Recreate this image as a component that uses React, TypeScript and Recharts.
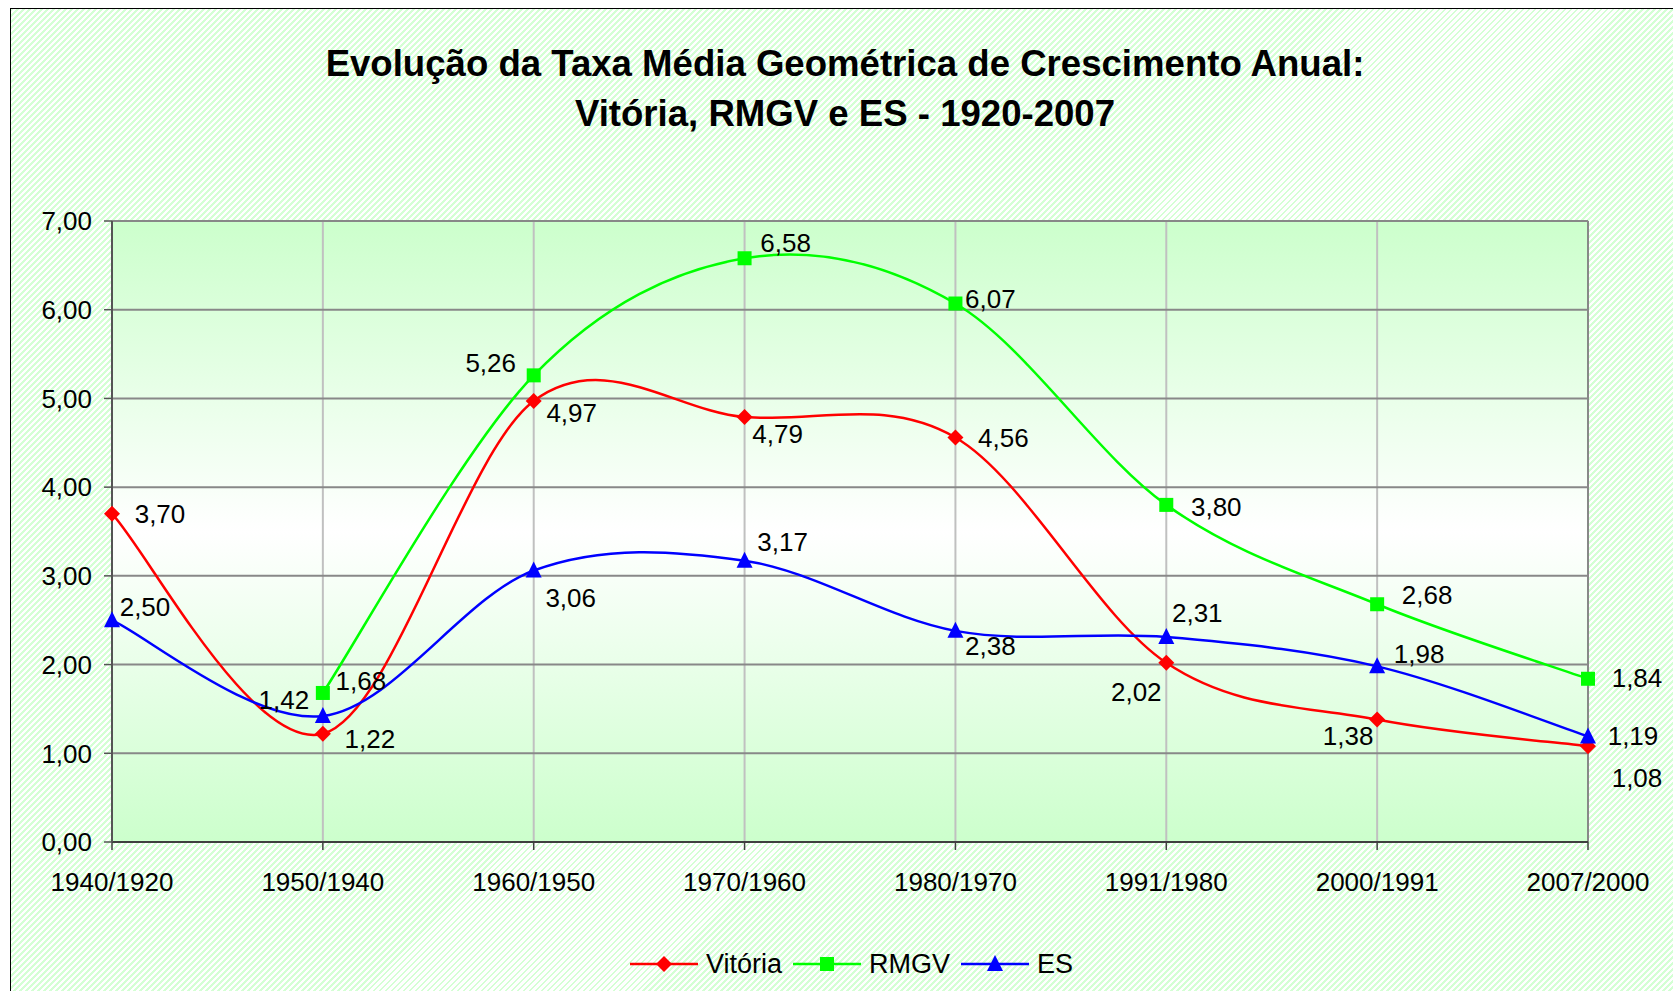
import React from "react";
import {
  LineChart,
  Line,
  XAxis,
  YAxis,
  CartesianGrid,
  LabelList,
  Legend,
  ReferenceLine,
} from "recharts";

const PERIODS = [
  "1940/1920", "1950/1940", "1960/1950", "1970/1960",
  "1980/1970", "1991/1980", "2000/1991", "2007/2000",
];
const VITORIA = [3.7, 1.22, 4.97, 4.79, 4.56, 2.02, 1.38, 1.08];
const RMGV = [null, 1.68, 5.26, 6.58, 6.07, 3.8, 2.68, 1.84];
const ES = [2.5, 1.42, 3.06, 3.17, 2.38, 2.31, 1.98, 1.19];
const Y_TICKS = [0, 1, 2, 3, 4, 5, 6, 7];

// where each data label sits relative to its point (dx, dy in px)
const VITORIA_LABEL_POS = [[48, 0], [47, 5], [38, 12], [33, 17], [48, 0], [-30, 29], [-29, 16], [49, 31]];
const RMGV_LABEL_POS = [[0, 0], [38, -12], [-43, -13], [41, -16], [35, -5], [50, 2], [50, -10], [49, -1]];
const ES_LABEL_POS = [[33, -14], [-39, -16], [37, 27], [38, -19], [35, 15], [31, -24], [42, -13], [45, -1]];

const FONT = "'Liberation Sans', Arial, sans-serif";

const data = PERIODS.map((period, i) => ({
  period,
  vitoria: VITORIA[i],
  rmgv: RMGV[i],
  es: ES[i],
}));

const SERIES = [
  { key: "vitoria", name: "Vitória", color: "#ff0000", shape: "diamond", labelPos: VITORIA_LABEL_POS },
  { key: "rmgv", name: "RMGV", color: "#00ff00", shape: "square", labelPos: RMGV_LABEL_POS },
  { key: "es", name: "ES", color: "#0000ff", shape: "triangle", labelPos: ES_LABEL_POS },
];

const fmt = (v: number) => v.toFixed(2).replace(".", ",");

// Excel-style smoothed line (Catmull-Rom as cubic bezier)
const excelSmooth = (context: any) => {
  let pts: number[][] = [];
  return {
    areaStart() {},
    areaEnd() {},
    lineStart() {
      pts = [];
    },
    point(x: number, y: number) {
      pts.push([+x, +y]);
    },
    lineEnd() {
      const n = pts.length;
      if (!n) return;
      context.moveTo(pts[0][0], pts[0][1]);
      for (let i = 0; i < n - 1; i++) {
        const p0 = pts[i - 1] || pts[i];
        const p1 = pts[i];
        const p2 = pts[i + 1];
        const p3 = pts[i + 2] || p2;
        context.bezierCurveTo(
          p1[0] + (p2[0] - p0[0]) / 6,
          p1[1] + (p2[1] - p0[1]) / 6,
          p2[0] - (p3[0] - p1[0]) / 6,
          p2[1] - (p3[1] - p1[1]) / 6,
          p2[0],
          p2[1]
        );
      }
    },
  };
};

function Marker({ shape, cx, cy, color }: any) {
  if (shape === "diamond") {
    return <path d={`M${cx},${cy - 8}L${cx + 8},${cy}L${cx},${cy + 8}L${cx - 8},${cy}Z`} fill={color} />;
  }
  if (shape === "square") {
    return <rect x={cx - 7} y={cy - 7} width={14} height={14} fill={color} />;
  }
  return <path d={`M${cx},${cy - 9}L${cx + 8},${cy + 7}L${cx - 8},${cy + 7}Z`} fill={color} />;
}

function LegendContent() {
  return (
    <div style={{ display: "flex", justifyContent: "center", alignItems: "center", height: 30, fontFamily: FONT, fontSize: 27 }}>
      {SERIES.map((s) => (
        <div key={s.key} style={{ display: "flex", alignItems: "center", marginRight: 11 }}>
          <svg width={68} height={20}>
            <line x1={0} y1={10} x2={68} y2={10} stroke={s.color} strokeWidth={2.5} />
            <Marker shape={s.shape} cx={34} cy={10} color={s.color} />
          </svg>
          <span style={{ marginLeft: 8, color: "#000" }}>{s.name}</span>
        </div>
      ))}
    </div>
  );
}

export default function App() {
  return (
    <div
      style={{
        position: "fixed",
        left: 10,
        top: 8,
        width: 1663,
        height: 983,
        boxSizing: "border-box",
        borderTop: "1px solid #000",
        borderLeft: "1px solid #000",
        background: "repeating-linear-gradient(135deg, #d4ffd4 0px, #d4ffd4 2px, #ffffff 2px, #ffffff 4.24px)",
        overflow: "hidden",
      }}
    >
      <svg width={0} height={0} style={{ position: "absolute" }}>
        <defs>
          <linearGradient id="plotBg" x1="0" y1="0" x2="0" y2="1">
            <stop offset="0" stopColor="#ccffcc" />
            <stop offset="0.5" stopColor="#ffffff" />
            <stop offset="1" stopColor="#ccffcc" />
          </linearGradient>
        </defs>
      </svg>
      <div
        style={{
          position: "absolute",
          left: 0,
          top: 30,
          width: 1668,
          textAlign: "center",
          fontFamily: FONT,
          fontWeight: "bold",
          fontSize: 36.6,
          lineHeight: "50px",
          whiteSpace: "nowrap",
          color: "#000",
        }}
      >
        <div>Evolução da Taxa Média Geométrica de Crescimento Anual:</div>
        <div>Vitória, RMGV e ES - 1920-2007</div>
      </div>
      <LineChart
        width={1662}
        height={982}
        data={data}
        margin={{ top: 212, right: 85, bottom: 89, left: 0 }}
        style={{ fontFamily: FONT }}
      >
        <CartesianGrid horizontal={false} vertical stroke="#c0c0c0" strokeWidth={2} fill="url(#plotBg)" />
        <CartesianGrid horizontal vertical={false} stroke="#888888" strokeWidth={2} />
        <ReferenceLine x="2007/2000" stroke="#888888" strokeWidth={2} />
        <XAxis
          dataKey="period"
          interval={0}
          height={60}
          tickSize={8}
          tickMargin={23}
          axisLine={{ stroke: "#404040", strokeWidth: 2 }}
          tickLine={{ stroke: "#404040", strokeWidth: 1.5 }}
          tick={{ fontSize: 26, fill: "#000", fontFamily: FONT }}
        />
        <YAxis
          type="number"
          domain={[0, 7]}
          ticks={Y_TICKS}
          width={101}
          tickSize={8}
          tickMargin={12}
          tickFormatter={(v: number) => fmt(v)}
          axisLine={{ stroke: "#555555", strokeWidth: 2 }}
          tickLine={{ stroke: "#555555", strokeWidth: 1.5 }}
          tick={{ fontSize: 26, fill: "#000", fontFamily: FONT }}
        />
        {SERIES.map((s) => (
          <Line
            key={s.key}
            dataKey={s.key}
            name={s.name}
            type={excelSmooth as any}
            stroke={s.color}
            strokeWidth={2.5}
            isAnimationActive={false}
            connectNulls={false}
            activeDot={false}
            dot={(p: any) =>
              p.cy == null || p.value == null ? (
                <g key={`${s.key}-dot-${p.index}`} />
              ) : (
                <Marker key={`${s.key}-dot-${p.index}`} shape={s.shape} cx={p.cx} cy={p.cy} color={s.color} />
              )
            }
          >
            <LabelList
              dataKey={s.key}
              content={(p: any) => {
                if (p.value == null || p.x == null || p.y == null) return null;
                const [dx, dy] = s.labelPos[p.index] || [0, 0];
                return (
                  <text
                    x={p.x + dx}
                    y={p.y + dy}
                    dy="0.36em"
                    textAnchor="middle"
                    fontSize={26}
                    fontFamily={FONT}
                    fill="#000"
                  >
                    {fmt(Number(p.value))}
                  </text>
                );
              }}
            />
          </Line>
        ))}
        <Legend
          layout="horizontal"
          verticalAlign="middle"
          align="center"
          wrapperStyle={{ top: 940, left: 346, width: 1000 }}
          content={() => <LegendContent />}
        />
      </LineChart>
    </div>
  );
}
